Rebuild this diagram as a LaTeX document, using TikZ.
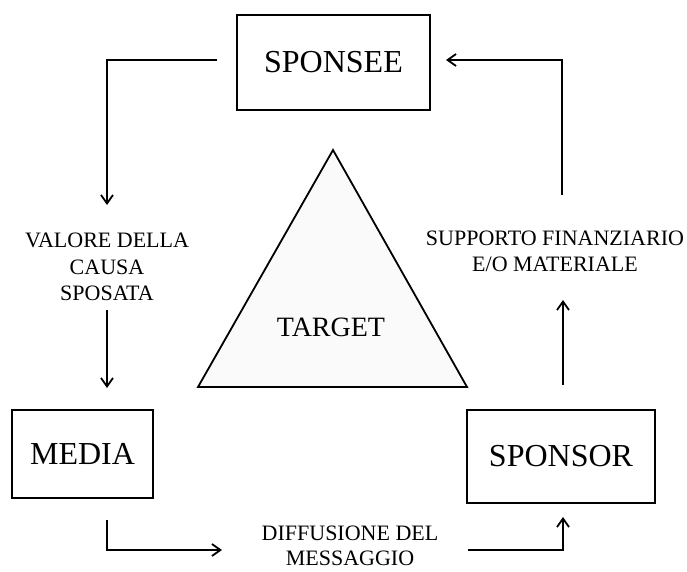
\documentclass[tikz,border=0pt]{standalone}
\usepackage{fontspec}
\setmainfont{Liberation Serif}
\usetikzlibrary{arrows.meta}
\definecolor{trifill}{HTML}{FAFAFA}
\begin{document}
\begin{tikzpicture}[x=1pt,y=-1pt,
  box/.style={draw, line width=1.8pt, inner sep=0pt, font=\fontsize{32}{38}\selectfont},
  flow/.style={line width=1.8pt, -{Straight Barb[length=8.5pt,width=12pt,line width=1.8pt]}},
  lbl/.style={align=center, inner sep=0pt, font=\fontsize{22}{26.5}\selectfont}]
\useasboundingbox (0,0) rectangle (687,572);

% the three actors
\node[box, minimum width=193pt, minimum height=95pt] (sponsee) at (333.5,62.5) {SPONSEE};
\node[box, minimum width=141pt, minimum height=88pt] (media) at (82.5,454) {MEDIA};
\node[box, minimum width=188pt, minimum height=93pt] (sponsor) at (561,456.5) {SPONSOR};

% target triangle in the middle
\coordinate (apex) at (333,150);
\coordinate (bright) at (467,387);
\coordinate (bleft) at (198,387);
\draw[line width=1.8pt, fill=trifill] (apex) -- (bright) -- (bleft) -- cycle;
\node[font=\fontsize{28}{34}\selectfont] (target) at (331,327) {TARGET};

% flow labels
\node[lbl] (valore) at (107,267) {VALORE DELLA\\CAUSA\\SPOSATA};
\node[lbl, font=\fontsize{22}{25}\selectfont] (diffusione) at (350,546) {DIFFUSIONE DEL\\MESSAGGIO};
\node[lbl] (supporto) at (555,251.5) {SUPPORTO FINANZIARIO\\E/O MATERIALE};

% connector end points
\coordinate (a1) at (217,60);
\coordinate (a2) at (107,205);
\coordinate (a3) at (107,310);
\coordinate (a4) at (107,388);
\coordinate (b1) at (107,520);
\coordinate (b2) at (222,550);
\coordinate (c1) at (468,550);
\coordinate (c2) at (563,517);
\coordinate (d1) at (563,385);
\coordinate (d2) at (563,300);
\coordinate (e1) at (562,195);
\coordinate (e2) at (446,60);

% sponsee -> media
\draw[flow] (a1) -| (a2);
\draw[flow] (a3) -- (a4);
% media -> sponsor
\draw[flow] (b1) |- (b2);
\draw[flow] (c1) -| (c2);
% sponsor -> sponsee
\draw[flow] (d1) -- (d2);
\draw[flow] (e1) |- (e2);
\end{tikzpicture}
\end{document}
